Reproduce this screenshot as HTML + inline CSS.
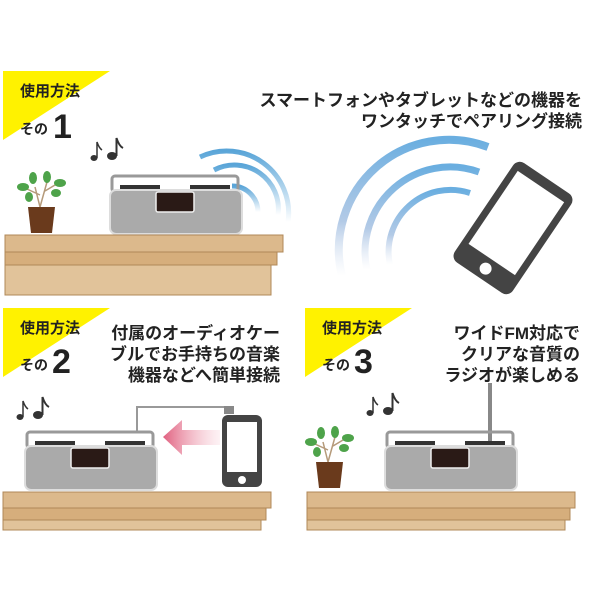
<!DOCTYPE html>
<html><head><meta charset="utf-8"><style>
html,body{margin:0;padding:0;background:#fff}
svg{display:block}
text{font-family:"Liberation Sans","Noto Sans CJK JP",sans-serif;font-weight:bold;fill:#222}
</style></head><body>
<svg width="600" height="600" viewBox="0 0 600 600">
<defs>
<linearGradient id="wv" x1="0" y1="0" x2="0" y2="1"><stop offset="0" stop-color="#5aa5d8"/><stop offset="1" stop-color="#5aa5d8" stop-opacity="0"/></linearGradient>
<linearGradient id="wv2" x1="0" y1="0" x2="1" y2="1"><stop offset="0" stop-color="#6aaee0"/><stop offset="0.6" stop-color="#9bb8dc" stop-opacity="0.8"/><stop offset="1" stop-color="#c8d4ea" stop-opacity="0.1"/></linearGradient>
<linearGradient id="wv3" x1="0" y1="0" x2="0" y2="1"><stop offset="0" stop-color="#6aaee0"/><stop offset="0.6" stop-color="#a0bde0" stop-opacity="0.8"/><stop offset="1" stop-color="#d0dcef" stop-opacity="0"/></linearGradient>
<linearGradient id="pk" x1="0" y1="0" x2="1" y2="0"><stop offset="0" stop-color="#e0607f"/><stop offset="1" stop-color="#f5c0cc" stop-opacity="0.2"/></linearGradient>
<g id="radio">
<rect x="2" y="0" width="126" height="16" rx="3" fill="none" stroke="#999" stroke-width="3"/>
<rect x="10" y="9" width="40" height="5" fill="#333"/><rect x="80" y="9" width="40" height="5" fill="#333"/>
<rect x="0" y="14" width="132" height="44" rx="6" fill="#aaa" stroke="#ddd" stroke-width="2"/>
<rect x="46" y="16" width="38" height="20" rx="2" fill="#2a1a16" stroke="#eee" stroke-width="1.5"/>
</g>
<g id="plant">
<path d="M25 40 L20 20 M25 40 L32 15 M25 28 L12 22 M30 24 L40 18" stroke="#b59a7a" stroke-width="1.5" fill="none"/>
<g fill="#4ea34a"><ellipse cx="8" cy="20" rx="6" ry="4"/><ellipse cx="18" cy="11" rx="4" ry="6"/><ellipse cx="32" cy="10" rx="4" ry="6"/><ellipse cx="45" cy="16" rx="6" ry="4"/><ellipse cx="41" cy="26" rx="5" ry="4"/><ellipse cx="14" cy="30" rx="4" ry="5"/></g>
<path d="M13 40 H40 L37 66 H16 Z" fill="#6a3a1c"/>
</g>
<g id="notes" fill="#333" stroke="#333">
<ellipse cx="4" cy="20" rx="3.5" ry="3" stroke="none"/><path d="M7 20 V4 Q9 10 12 12" stroke-width="1.5" fill="none"/>
<ellipse cx="22" cy="18" rx="5" ry="4" stroke="none"/><path d="M26.5 18 V0 Q29 8 33 10" stroke-width="2" fill="none"/>
</g>
</defs>

<!-- panel 1 -->
<polygon points="3,71 110,71 3,140" fill="#fff200"/>
<text x="20" y="96" font-size="15">使用方法</text>
<text x="20" y="134" font-size="14">その</text>
<text x="53" y="138" font-size="34">1</text>
<text x="582" y="106" font-size="17" text-anchor="end">スマートフォンやタブレットなどの機器を</text>
<text x="582" y="127" font-size="17" text-anchor="end">ワンタッチでペアリング接続</text>
<use href="#notes" x="90" y="138"/>
<use href="#plant" x="15" y="167"/>
<g fill="none" stroke="url(#wv)" stroke-width="5">
<path d="M232 186 A26 26 0 0 1 258 212" /><path d="M214 170 A44 44 0 0 1 278 215"/><path d="M200 157 A62 62 0 0 1 288 222"/>
</g>
<use href="#radio" x="110" y="176"/>
<rect x="5" y="235" width="278" height="17" fill="#dcb98c" stroke="#b08858"/>
<rect x="5" y="252" width="272" height="13" fill="#d6ae7c" stroke="#b08858"/>
<rect x="5" y="265" width="266" height="30" fill="#e1c39a" stroke="#b08858"/>

<g fill="none" stroke="url(#wv3)">
<path d="M342 276 A110 110 0 0 1 488 147" stroke-width="8"/>
<path d="M367 270 A85 85 0 0 1 479 172" stroke-width="7"/>
<path d="M390 265 A62 62 0 0 1 470 193" stroke-width="6"/>
</g>
<g transform="translate(513,228) rotate(34)">
<rect x="-35" y="-60" width="70" height="120" rx="8" fill="#444"/>
<rect x="-28" y="-50" width="56" height="88" fill="#fff"/>
<circle cx="0" cy="49" r="6" fill="#fff"/>
</g>

<!-- panel 2 -->
<polygon points="3,308 110,308 3,377" fill="#fff200"/>
<text x="20" y="333" font-size="15">使用方法</text>
<text x="20" y="370" font-size="14">その</text>
<text x="52" y="373" font-size="34">2</text>
<text x="280" y="339" font-size="17" text-anchor="end">付属のオーディオケー</text>
<text x="280" y="360" font-size="17" text-anchor="end">ブルでお手持ちの音楽</text>
<text x="280" y="381" font-size="17" text-anchor="end">機器などへ簡単接続</text>
<use href="#notes" x="16" y="397"/>
<path d="M137 432 V407 H228 V412" fill="none" stroke="#999" stroke-width="2"/>
<rect x="224" y="406" width="10" height="8" fill="#888"/>
<polygon points="163,437 182,420 182,430 220,430 220,445 182,445 182,455" fill="url(#pk)"/>
<use href="#radio" x="25" y="432"/>
<rect x="222" y="415" width="40" height="72" rx="6" fill="#444"/>
<rect x="227" y="422" width="30" height="50" fill="#fff"/>
<circle cx="242" cy="480" r="4" fill="#fff"/>
<rect x="3" y="492" width="268" height="16" fill="#dcb98c" stroke="#b08858"/>
<rect x="3" y="508" width="263" height="12" fill="#d6ae7c" stroke="#b08858"/>
<rect x="3" y="520" width="258" height="10" fill="#e1c39a" stroke="#b08858"/>

<!-- panel 3 -->
<polygon points="305,308 412,308 305,377" fill="#fff200"/>
<text x="322" y="333" font-size="15">使用方法</text>
<text x="322" y="370" font-size="14">その</text>
<text x="354" y="373" font-size="34">3</text>
<text x="580" y="339" font-size="17" text-anchor="end">ワイドFM対応で</text>
<text x="580" y="360" font-size="17" text-anchor="end">クリアな音質の</text>
<text x="580" y="381" font-size="17" text-anchor="end">ラジオが楽しめる</text>
<use href="#notes" x="366" y="393"/>
<use href="#plant" x="303" y="422"/>
<rect x="488" y="383" width="4" height="62" fill="#888"/>
<use href="#radio" x="385" y="432"/>
<rect x="307" y="492" width="268" height="16" fill="#dcb98c" stroke="#b08858"/>
<rect x="307" y="508" width="263" height="12" fill="#d6ae7c" stroke="#b08858"/>
<rect x="307" y="520" width="258" height="10" fill="#e1c39a" stroke="#b08858"/>
</svg>
</body></html>
